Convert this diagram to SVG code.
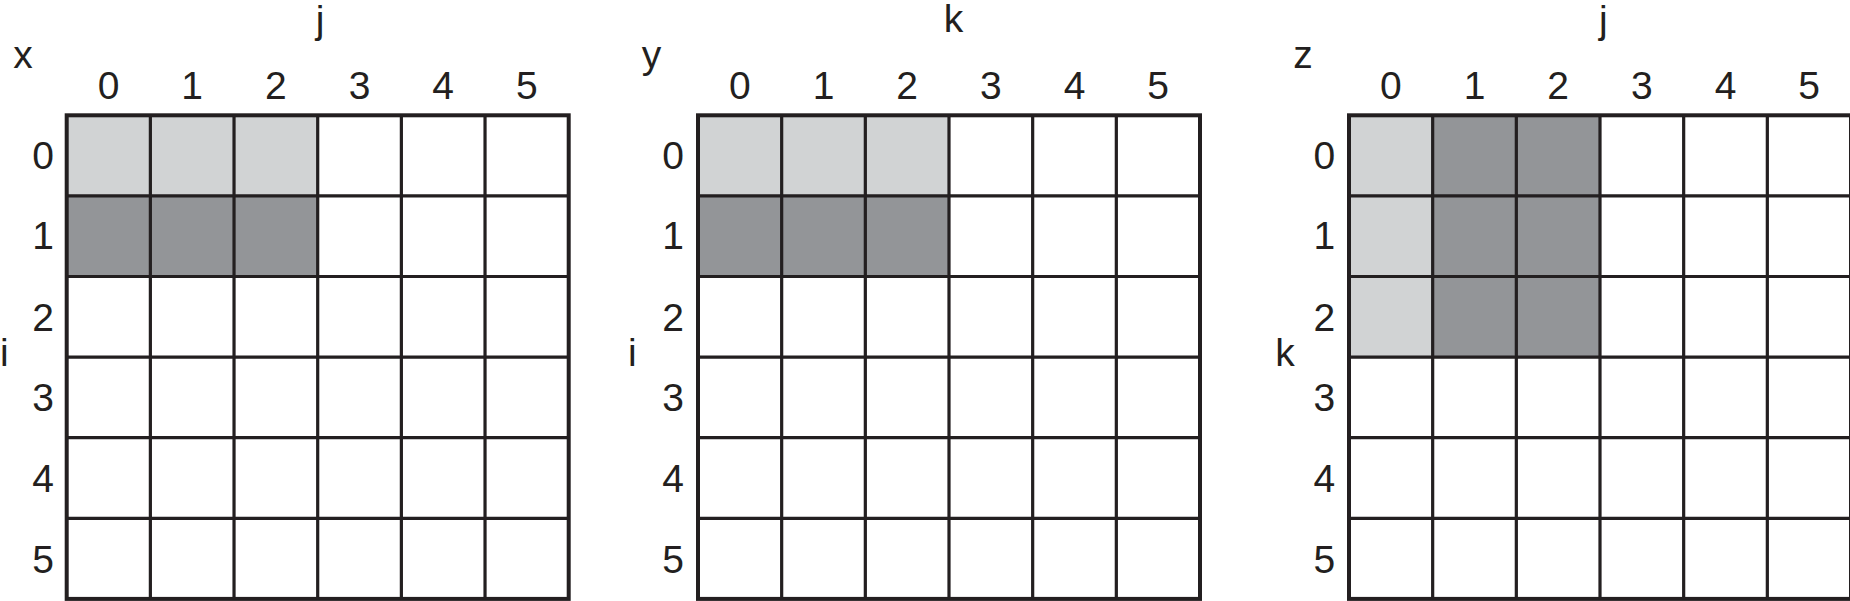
<svg xmlns="http://www.w3.org/2000/svg" width="1850" height="601" viewBox="0 0 1850 601">
  <defs>
    <style>
      .lt { fill: #d1d3d4; }
      .dk { fill: #939598; }
      .ln { stroke: #231f20; stroke-width: 3.2; fill: none; }
      .bd { stroke: #231f20; stroke-width: 4; fill: none; }
      .t { font-family: "Liberation Sans", Arial, sans-serif; font-size: 39px; fill: #231f20; text-anchor: middle; }
      .ts { font-family: "Liberation Sans", Arial, sans-serif; font-size: 39px; fill: #231f20; text-anchor: start; }
    </style>
    <g id="gridlines">
      <path class="ln" d="M83.67,0V483.6M167.33,0V483.6M251,0V483.6M334.67,0V483.6M418.33,0V483.6M0,80.6H502M0,161.2H502M0,241.8H502M0,322.4H502M0,403H502"/>
      <rect class="bd" x="0" y="0" width="502" height="483.6"/>
    </g>
  </defs>
  <rect width="1850" height="601" fill="#ffffff"/>

  <g id="grid-x">
    <g transform="translate(66.7,115.3)">
      <rect class="lt" x="0" y="0" width="251" height="80.6"/>
      <rect class="dk" x="0" y="80.6" width="251" height="80.6"/>
      <use href="#gridlines"/>
    </g>
    <text class="t" x="23" y="68.3">x</text>
    <text class="t" x="320" y="33">j</text>
    <text class="ts" x="0" y="365.7">i</text>
    <g>
      <text class="t" x="108.5" y="99">0</text>
      <text class="t" x="192.2" y="99">1</text>
      <text class="t" x="275.9" y="99">2</text>
      <text class="t" x="359.5" y="99">3</text>
      <text class="t" x="443.2" y="99">4</text>
      <text class="t" x="526.8" y="99">5</text>
    </g>
    <g>
      <text class="t" x="43" y="168.8">0</text>
      <text class="t" x="43" y="249.4">1</text>
      <text class="t" x="43" y="330.8">2</text>
      <text class="t" x="43" y="411.4">3</text>
      <text class="t" x="43" y="492">4</text>
      <text class="t" x="43" y="572.6">5</text>
    </g>
  </g>

  <g id="grid-y">
    <g transform="translate(698,115.3)">
      <rect class="lt" x="0" y="0" width="251" height="80.6"/>
      <rect class="dk" x="0" y="80.6" width="251" height="80.6"/>
      <use href="#gridlines"/>
    </g>
    <text class="t" x="651.6" y="67.5">y</text>
    <text class="t" x="953.4" y="32.3">k</text>
    <text class="t" x="632.3" y="365.7">i</text>
    <g>
      <text class="t" x="739.8" y="99">0</text>
      <text class="t" x="823.5" y="99">1</text>
      <text class="t" x="907.2" y="99">2</text>
      <text class="t" x="990.8" y="99">3</text>
      <text class="t" x="1074.5" y="99">4</text>
      <text class="t" x="1158.1" y="99">5</text>
    </g>
    <g>
      <text class="t" x="673" y="168.8">0</text>
      <text class="t" x="673" y="249.4">1</text>
      <text class="t" x="673" y="330.8">2</text>
      <text class="t" x="673" y="411.4">3</text>
      <text class="t" x="673" y="492">4</text>
      <text class="t" x="673" y="572.6">5</text>
    </g>
  </g>

  <g id="grid-z">
    <g transform="translate(1349,115.3)">
      <rect class="lt" x="0" y="0" width="83.67" height="241.8"/>
      <rect class="dk" x="83.67" y="0" width="167.33" height="241.8"/>
      <use href="#gridlines"/>
    </g>
    <text class="t" x="1303" y="68.3">z</text>
    <text class="t" x="1603.4" y="33">j</text>
    <text class="t" x="1285" y="365.7">k</text>
    <g>
      <text class="t" x="1390.8" y="99">0</text>
      <text class="t" x="1474.5" y="99">1</text>
      <text class="t" x="1558.2" y="99">2</text>
      <text class="t" x="1641.8" y="99">3</text>
      <text class="t" x="1725.5" y="99">4</text>
      <text class="t" x="1809.1" y="99">5</text>
    </g>
    <g>
      <text class="t" x="1324.4" y="168.8">0</text>
      <text class="t" x="1324.4" y="249.4">1</text>
      <text class="t" x="1324.4" y="330.8">2</text>
      <text class="t" x="1324.4" y="411.4">3</text>
      <text class="t" x="1324.4" y="492">4</text>
      <text class="t" x="1324.4" y="572.6">5</text>
    </g>
  </g>

  <g id="connectors"></g>
</svg>
